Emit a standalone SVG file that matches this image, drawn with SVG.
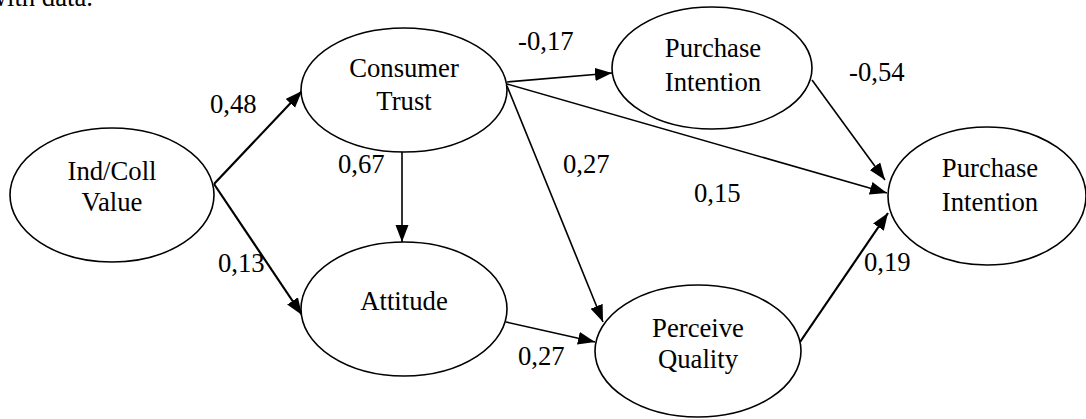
<svg xmlns="http://www.w3.org/2000/svg" width="1086" height="419" viewBox="0 0 1086 419">
<style>
text{font-family:"Liberation Serif","Times New Roman",serif;font-size:26.7px;fill:#000}
.n text{text-anchor:middle}
.n ellipse{fill:#fff;stroke:#000;stroke-width:1.6}
.c line{stroke:#000;stroke-width:1.6;marker-end:url(#ah)}
.c line.t{stroke-width:2.2}
</style>
<defs>
<marker id="ah" markerUnits="userSpaceOnUse" markerWidth="18" markerHeight="14" refX="17" refY="6.5" orient="auto">
<path d="M0,0 L17,6.5 L0,13 z" fill="#000"/>
</marker>
</defs>
<text x="93" y="6" text-anchor="end">with data.</text>
<g class="c" id="connectors">
<line class="t" x1="214" y1="184" x2="302" y2="91"/>
<line class="t" x1="214" y1="184" x2="302" y2="315"/>
<line x1="402" y1="152" x2="402" y2="242"/>
<line x1="507" y1="82" x2="612" y2="73"/>
<line x1="507" y1="84" x2="887" y2="193"/>
<line x1="507" y1="86" x2="603" y2="322"/>
<line x1="812" y1="80" x2="885" y2="180"/>
<line x1="506" y1="322" x2="595" y2="342"/>
<line class="t" x1="800" y1="342" x2="888" y2="213"/>
</g>
<g class="n" id="ind"><ellipse cx="112" cy="195" rx="102" ry="67"/><text x="112" y="180">Ind/Coll</text><text x="112" y="211">Value</text></g>
<g class="n" id="trust"><ellipse cx="404" cy="90" rx="103" ry="62"/><text x="404" y="77">Consumer</text><text x="404" y="110">Trust</text></g>
<g class="n" id="pi1"><ellipse cx="712" cy="68" rx="100" ry="61"/><text x="713" y="57">Purchase</text><text x="713" y="91">Intention</text></g>
<g class="n" id="pi2"><ellipse cx="987" cy="196" rx="99" ry="69"/><text x="990" y="177">Purchase</text><text x="990" y="211">Intention</text></g>
<g class="n" id="att"><ellipse cx="404" cy="309" rx="103" ry="67"/><text x="404" y="310">Attitude</text></g>
<g class="n" id="pq"><ellipse cx="698" cy="351" rx="103" ry="66"/><text x="698" y="337">Perceive</text><text x="698" y="368">Quality</text></g>
<g id="labels">
<text x="210" y="113">0,48</text>
<text x="218" y="272">0,13</text>
<text x="338" y="173">0,67</text>
<text x="518" y="50">-0,17</text>
<text x="563" y="173">0,27</text>
<text x="849" y="81">-0,54</text>
<text x="694" y="202">0,15</text>
<text x="518" y="365">0,27</text>
<text x="864" y="271">0,19</text>
</g>
</svg>
